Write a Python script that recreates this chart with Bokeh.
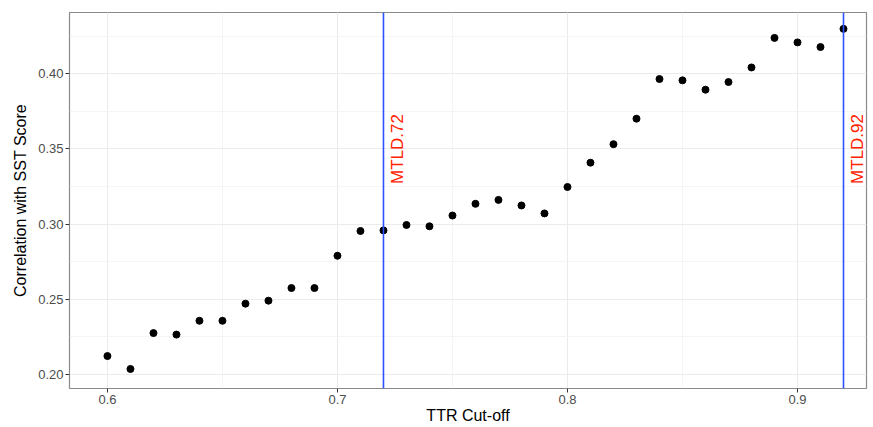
import numpy as np
from bokeh.plotting import figure
from bokeh.models import SingleIntervalTicker, Range1d, Label, Span, NumeralTickFormatter
from bokeh.embed import file_html
from bokeh.resources import INLINE

ttr_cutoff = [0.60, 0.61, 0.62, 0.63, 0.64, 0.65, 0.66, 0.67, 0.68, 0.69,
              0.70, 0.71, 0.72, 0.73, 0.74, 0.75, 0.76, 0.77, 0.78, 0.79,
              0.80, 0.81, 0.82, 0.83, 0.84, 0.85, 0.86, 0.87, 0.88, 0.89,
              0.90, 0.91, 0.92]
correlation = [0.2121, 0.2035, 0.2274, 0.2264, 0.2356, 0.2356, 0.2470, 0.2490, 0.2574, 0.2574,
               0.2789, 0.2954, 0.2958, 0.2994, 0.2985, 0.3057, 0.3135, 0.3161, 0.3124, 0.3071,
               0.3247, 0.3409, 0.3532, 0.3702, 0.3966, 0.3957, 0.3895, 0.3946, 0.4043, 0.4240,
               0.4210, 0.4179, 0.4300]
vlines = [0.72, 0.92]
vline_labels = ["MTLD.72", "MTLD.92"]
label_y = 0.35

p = figure(width=873, height=427, output_backend="svg", toolbar_location=None,
           x_range=Range1d(0.5835, 0.930), y_range=Range1d(0.1905, 0.4409),
           min_border_left=69, min_border_right=7, min_border_top=12, min_border_bottom=39)

p.background_fill_color = "white"
p.border_fill_color = "white"
p.outline_line_color = "#8a8a8a"
p.outline_line_width = 1.2

p.xaxis.ticker = SingleIntervalTicker(interval=0.1, num_minor_ticks=2)
p.yaxis.ticker = SingleIntervalTicker(interval=0.05, num_minor_ticks=2)
p.yaxis.formatter = NumeralTickFormatter(format="0.00")
p.xaxis.formatter = NumeralTickFormatter(format="0.0")

for g in (p.xgrid, p.ygrid):
    g.grid_line_color = "#ebebeb"
    g.grid_line_width = 1.1
    g.minor_grid_line_color = "#f2f2f2"
    g.minor_grid_line_width = 0.8

for ax in (p.xaxis, p.yaxis):
    ax.axis_line_color = None
    ax.major_tick_line_color = "#333333"
    ax.major_tick_out = 4
    ax.major_tick_in = 0
    ax.minor_tick_line_color = None
    ax.major_label_text_color = "#4d4d4d"
    ax.major_label_text_font = "Liberation Sans"
    ax.major_label_text_font_size = "13px"
    ax.major_label_standoff = 2
    ax.axis_label_text_font = "Liberation Sans"
    ax.axis_label_text_font_style = "normal"
    ax.axis_label_text_color = "black"

p.xaxis.axis_label = "TTR Cut-off"
p.yaxis.axis_label = "Correlation with SST Score"
p.xaxis.axis_label_text_font_size = "16px"
p.yaxis.axis_label_text_font_size = "16px"
p.xaxis.axis_label_standoff = 0
p.yaxis.axis_label_standoff = 6

for xv in vlines:
    p.add_layout(Span(location=xv, dimension="height", line_color="#2f52ff", line_width=1.6))

p.scatter(ttr_cutoff, correlation, size=7, color="black")

for xv, lab in zip(vlines, vline_labels):
    p.add_layout(Label(x=xv, y=label_y, x_offset=14, text=lab, angle=np.pi / 2,
                       text_align="center", text_baseline="middle",
                       text_color="#ff2200", text_font="Liberation Sans",
                       text_font_size="17px"))

open("out.html", "w").write(file_html(p, INLINE))
